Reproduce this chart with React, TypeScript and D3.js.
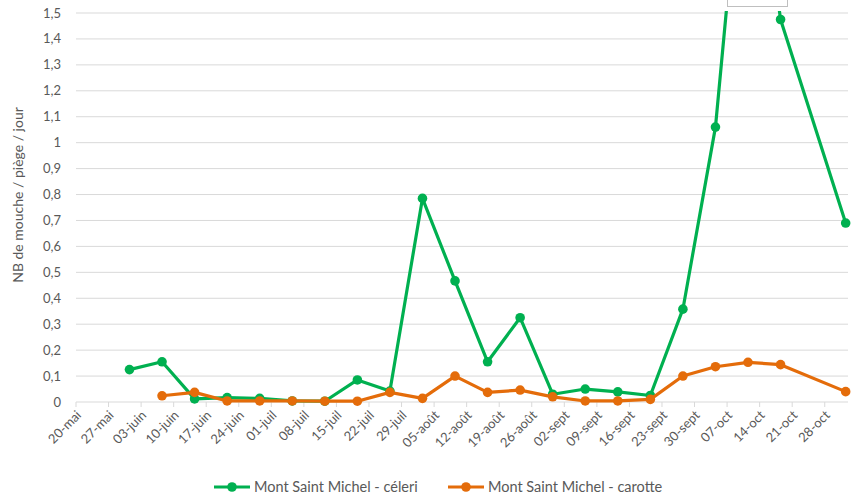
import React from 'react';
import * as d3 from 'd3';

// sample dates (one trap reading per week, 25-oct missing)
const sampleDates = [
  '2019-05-31', '2019-06-07', '2019-06-14', '2019-06-21', '2019-06-28',
  '2019-07-05', '2019-07-12', '2019-07-19', '2019-07-26', '2019-08-02',
  '2019-08-09', '2019-08-16', '2019-08-23', '2019-08-30', '2019-09-06',
  '2019-09-13', '2019-09-20', '2019-09-27', '2019-10-04', '2019-10-11',
  '2019-10-18', '2019-11-01',
];

const celeri = [
  0.125, 0.155, 0.012, 0.017, 0.014, 0.004, 0.003, 0.085, 0.042, 0.785,
  0.467, 0.155, 0.325, 0.03, 0.05, 0.039, 0.025, 0.358, 1.06, 2.4,
  1.475, 0.69,
];

const carotte = [
  null, 0.024, 0.037, 0.004, 0.004, 0.004, 0.003, 0.003, 0.037, 0.014,
  0.1, 0.037, 0.046, 0.02, 0.004, 0.004, 0.01, 0.1, 0.136, 0.153,
  0.144, 0.04,
];

const tickLabels = [
  '20-mai', '27-mai', '03-juin', '10-juin', '17-juin', '24-juin', '01-juil',
  '08-juil', '15-juil', '22-juil', '29-juil', '05-août', '12-août', '19-août',
  '26-août', '02-sept', '09-sept', '16-sept', '23-sept', '30-sept', '07-oct',
  '14-oct', '21-oct', '28-oct',
];

const yTicks = [0, 0.1, 0.2, 0.3, 0.4, 0.5, 0.6, 0.7, 0.8, 0.9, 1, 1.1, 1.2, 1.3, 1.4, 1.5];

const series = [
  { name: 'Mont Saint Michel - céleri', color: '#00B050', values: celeri },
  { name: 'Mont Saint Michel - carotte', color: '#E46C0A', values: carotte },
];

const W = 859;
const H = 497;
const font = 'Lato, Calibri, "Open Sans", sans-serif';
const textColor = '#595959';
const gridColor = '#D9D9D9';

export default function App() {
  const start = new Date(Date.UTC(2019, 4, 20));
  const end = new Date(Date.UTC(2019, 10, 2));
  const x = d3.scaleUtc().domain([start, end]).range([76, 848]);
  const y = d3.scaleLinear().domain([0, 1.5]).range([402, 13]);

  const tickDates = d3.utcMonday.range(start, d3.utcDay.offset(end, -4));
  const fmt = d3.format('.1f');

  // points sit in the middle of their day slot
  const px = (s: string) => x(d3.utcHour.offset(new Date(s + 'T00:00:00Z'), 12));

  const line = d3
    .line<number | null>()
    .defined(d => d !== null)
    .x((d, i) => px(sampleDates[i]))
    .y(d => y(d as number));

  return (
    <div style={{ position: 'absolute', left: 0, top: 0 }}>
      <svg width={W} height={H} style={{ display: 'block', background: '#fff' }}>
        <defs>
          <clipPath id="plot">
            <rect x={60} y={11} width={800} height={400} />
          </clipPath>
        </defs>

        {/* gridlines */}
        {yTicks.slice(1).map(t => (
          <line key={t} x1={76} x2={848} y1={y(t)} y2={y(t)} stroke={gridColor} strokeWidth={1} />
        ))}
        {yTicks.map(t => (
          <text key={'l' + t} x={61} y={y(t)} dy="0.35em" textAnchor="end" fontSize={13}
            fontFamily={font} fill={textColor}>
            {t === 0 || t === 1 ? String(t) : fmt(t).replace('.', ',')}
          </text>
        ))}

        {/* x axis */}
        <line x1={76} x2={848} y1={y(0)} y2={y(0)} stroke={gridColor} strokeWidth={1} />
        {tickDates.map((d, i) => (
          <g key={i}>
            <line x1={x(d)} x2={x(d)} y1={y(0)} y2={y(0) + 5} stroke={gridColor} />
            <text transform={`translate(${x(d) + 6},${y(0) + 14}) rotate(-45)`} textAnchor="end"
              fontSize={13} fontFamily={font} fill={textColor}>
              {tickLabels[i]}
            </text>
          </g>
        ))}

        {/* series */}
        <g clipPath="url(#plot)">
          {series.map(s => (
            <g key={s.name}>
              <path d={line(s.values) || ''} fill="none" stroke={s.color} strokeWidth={3.2}
                strokeLinejoin="round" />
              {s.values.map((v, i) =>
                v === null ? null : (
                  <circle key={i} cx={px(sampleDates[i])} cy={y(v)} r={4.8} fill={s.color} />
                )
              )}
            </g>
          ))}
        </g>

        {/* clipped data label box at the top */}
        <rect x={727.5} y={-2} width={60} height={8.5} fill="#fff" stroke="#BFBFBF" strokeWidth={1} />

        {/* y axis title */}
        <text transform="translate(23,195) rotate(-90)" textAnchor="middle" fontSize={14}
          fontFamily={font} fill={textColor}>
          NB de mouche / piège / jour
        </text>

        {/* legend */}
        {series.map((s, i) => {
          const lx = 214 + i * 234;
          return (
            <g key={s.name}>
              <line x1={lx} x2={lx + 36} y1={487} y2={487} stroke={s.color} strokeWidth={3.2} />
              <circle cx={lx + 18} cy={487} r={4.8} fill={s.color} />
              <text x={lx + 40} y={487} dy="0.35em" fontSize={14.5} fontFamily={font} fill={textColor}>
                {s.name}
              </text>
            </g>
          );
        })}
      </svg>
    </div>
  );
}
